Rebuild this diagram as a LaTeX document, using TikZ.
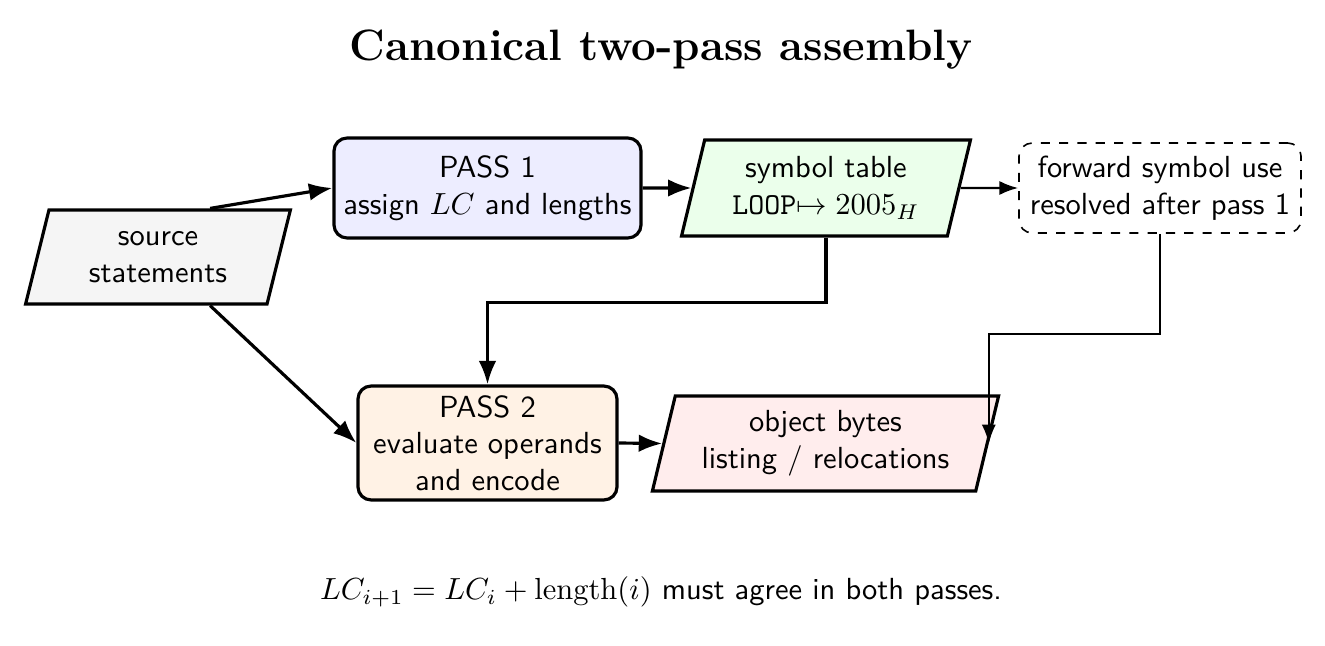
\documentclass[tikz,border=0pt]{standalone}
\usetikzlibrary{shapes.geometric,arrows.meta,calc}
\begin{document}
\begin{tikzpicture}[x=0.01152cm,y=-0.01152cm,
  font=\sffamily,
  para/.style={trapezium, trapezium left angle=75.7, trapezium right angle=104.3,
    trapezium stretches=true, draw, line width=1.04pt, align=center, inner sep=2pt},
  rbox/.style={draw, rounded corners=4.3pt, line width=1.04pt, align=center, inner sep=2pt},
  main/.style={line width=1.04pt, -{Latex}},
  aux/.style={line width=0.7pt, -{Latex}}]
\useasboundingbox (0,0) rectangle (1325,646);
\node[font=\Large\bfseries\rmfamily] (title) at (661,50) {Canonical two-pass assembly};
\node[para, fill=gray!8, minimum width=3.053cm, minimum height=1.083cm] (src) at (158,257) {source\\statements};
\node[rbox, fill=blue!7, minimum width=3.537cm, minimum height=1.152cm] (p1) at (487.5,188) {PASS 1\\assign $LC$ and lengths};
\node[para, fill=green!8, minimum width=3.341cm, minimum height=1.106cm] (sym) at (826,188) {symbol table\\\texttt{LOOP}$\mapsto 2005_H$};
\node[rbox, dashed, line width=0.52pt, minimum width=3.249cm, minimum height=1.036cm] (fwd) at (1160,188) {forward symbol use\\resolved after pass 1};
\node[rbox, fill=orange!10, minimum width=2.984cm, minimum height=1.313cm] (p2) at (487.5,443) {PASS 2\\evaluate operands\\and encode};
\node[para, fill=red!7, minimum width=4.021cm, minimum height=1.095cm] (obj) at (825.5,443.5) {object bytes\\listing / relocations};
\node (note) at (661,592) {$LC_{i+1} = LC_i + \mathrm{length}(i)$ must agree in both passes.};
\draw[main] (src.43) -- (p1.west);
\draw[main] (src.-43) -- (p2.west);
\draw[main] (p1.east) -- (sym.west);
\draw[aux] (sym.east) -- (fwd.west);
\draw[main] (sym.center |- sym.south) -- ++(0,65) -| (p2.north);
\draw[aux] (fwd.south) -- ++(0,100) -| (obj.east);
\draw[main] (p2.east) -- (obj.west);
\end{tikzpicture}
\end{document}
